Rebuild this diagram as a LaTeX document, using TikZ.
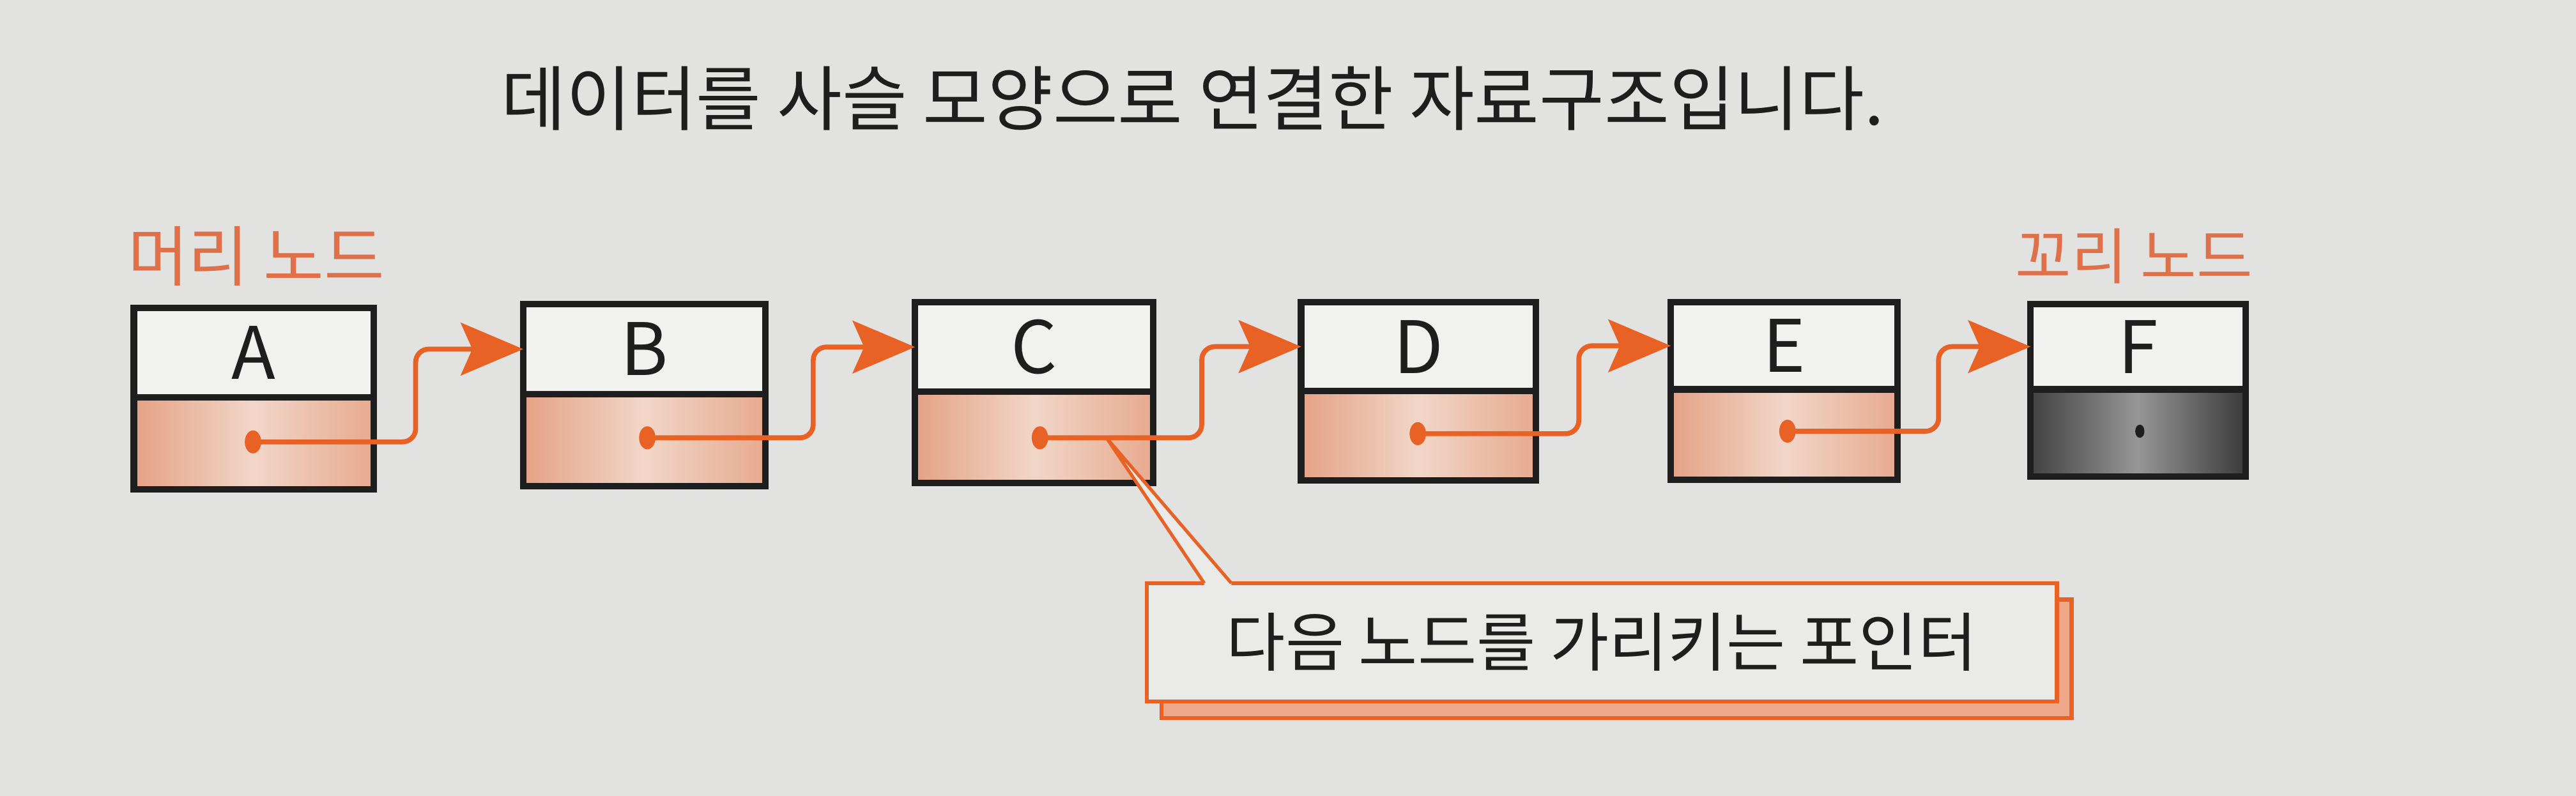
\documentclass[tikz,border=0pt]{standalone}
\usepackage{fontspec}
\newfontfamily\kr{Noto Sans CJK KR}
\usetikzlibrary{arrows.meta,shadows}
\definecolor{paper}{RGB}{226,226,225}
\definecolor{cellwhite}{RGB}{241,241,239}
\definecolor{notefill}{RGB}{234,234,233}
\definecolor{ptrorange}{RGB}{232,98,38}
\definecolor{lblorange}{RGB}{222,112,74}
\definecolor{ink}{RGB}{30,30,30}
\definecolor{shadeL}{RGB}{229,162,133}
\definecolor{shadeM}{RGB}{241,214,200}
\definecolor{shadeR}{RGB}{231,170,143}
\definecolor{darkL}{RGB}{66,66,66}
\definecolor{darkM}{RGB}{150,150,150}
\definecolor{darkR}{RGB}{58,58,58}
\definecolor{shadowfill}{RGB}{238,168,138}
\begin{document}
\begin{tikzpicture}[x=1pt,y=-1pt,
  topcell/.style={draw=ink, line width=4pt, fill=cellwhite, anchor=north west,
    inner sep=0pt, outer sep=0pt, text=ink, font=\kr\fontsize{44}{50}\selectfont},
  datacell/.style={draw=ink, line width=4pt, anchor=north west, inner sep=0pt, outer sep=0pt,
    left color=shadeL, right color=shadeR, middle color=shadeM},
  nullcell/.style={draw=ink, line width=4pt, anchor=north west, inner sep=0pt, outer sep=0pt,
    left color=darkL, right color=darkR, middle color=darkM},
  ptr/.style={draw=ptrorange, line width=3pt, rounded corners=8pt,
    -{Stealth[length=38pt,width=32pt,inset=7pt]}},
  dotmark/.style={fill=ptrorange},
  lbl/.style={text=lblorange, font=\kr\fontsize{40}{48}\selectfont},
  notebox/.style={draw=ptrorange, line width=2.5pt, fill=notefill, text=ink,
    anchor=north west, inner sep=0pt, outer sep=0pt,
    font=\kr\fontsize{39}{46}\selectfont,
    general shadow={shadow xshift=9pt, shadow yshift=-10pt, fill=shadowfill,
      draw=ptrorange, line width=2.5pt}},
  titletext/.style={text=ink, font=\kr\fontsize{43}{50}\selectfont}
]
\fill[paper] (0,0) rectangle (1568,484.5);
\useasboundingbox (0,0) rectangle (1568,484.5);

% title and labels
\node[titletext] (title) at (726,60) {데이터를 사슬 모양으로 연결한 자료구조입니다.};
\node[lbl] (head) at (156,156) {머리 노드};
\node[lbl, font=\kr\fontsize{37}{44}\selectfont] (tail) at (1299,156) {꼬리 노드};

% boxes
\node[topcell, minimum width=146pt, minimum height=54.5pt] (At) at (81.5,187.5) {A};
\node[datacell, minimum width=146pt, minimum height=56pt] (Ab) at (At.south west) {};
\node[topcell, minimum width=147.5pt, minimum height=55pt] (Bt) at (318.5,185) {B};
\node[datacell, minimum width=147.5pt, minimum height=56pt] (Bb) at (Bt.south west) {};
\node[topcell, minimum width=145pt, minimum height=54.5pt] (Ct) at (557,184) {C};
\node[datacell, minimum width=145pt, minimum height=55.5pt] (Cb) at (Ct.south west) {};
\node[topcell, minimum width=143pt, minimum height=54pt] (Dt) at (792,184) {D};
\node[datacell, minimum width=143pt, minimum height=54.5pt] (Db) at (Dt.south west) {};
\node[topcell, minimum width=138pt, minimum height=53pt] (Et) at (1017,184) {E};
\node[datacell, minimum width=138pt, minimum height=55pt] (Eb) at (Et.south west) {};
\node[topcell, minimum width=131pt, minimum height=52pt] (Ft) at (1236,185) {F};
\node[nullcell, minimum width=131pt, minimum height=53pt] (Fb) at (Ft.south west) {};

% callout
\node[notebox, minimum width=554pt, minimum height=72pt] (note) at (698,355)
  {\raisebox{-4pt}{다음 노드를 가리키는 포인터}};
\coordinate (apex) at (673.5,266.5);
\coordinate (w1) at ([xshift=35pt]note.north west);
\coordinate (w2) at ([xshift=51.5pt]note.north west);
\fill[notefill] (w1) -- (apex) -- (w2) -- ([yshift=-2pt]w2) -- ([yshift=-2pt]w1) -- cycle;
\draw[ptrorange, line width=2pt] (w1) -- (apex) -- (w2);

% pointer dots
\coordinate (dA) at (154,269);
\coordinate (dB) at (394,266.5);
\coordinate (dC) at (633,266.5);
\coordinate (dD) at (863,264);
\coordinate (dE) at (1088,262.5);
\coordinate (dF) at (1302.5,262.5);

% pointers
\draw[ptr] (dA) -| ([xshift=-65.5pt]Bt.west) -- (Bt.west);
\draw[ptr] (dB) -| ([xshift=-62pt]Ct.west) -- (Ct.west);
\draw[ptr] (dC) -| ([xshift=-60.5pt]Dt.west) -- (Dt.west);
\draw[ptr] (dD) -| ([xshift=-56pt]Et.west) -- (Et.west);
\draw[ptr] (dE) -| ([xshift=-56pt]Ft.west) -- (Ft.west);
\foreach \d in {dA,dB,dC,dD,dE}{\fill[dotmark] (\d) ellipse (5pt and 7pt);}
\fill[ink] (dF) ellipse (2.8pt and 4pt);
\end{tikzpicture}
\end{document}
